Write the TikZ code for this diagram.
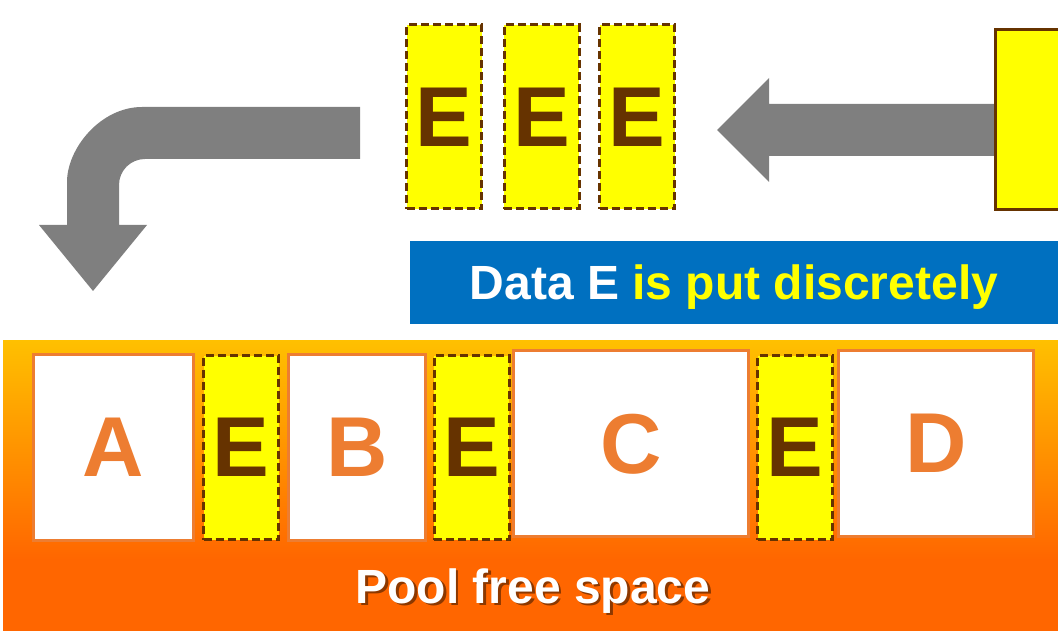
\documentclass[tikz,border=0pt]{standalone}
\usepackage{fontspec}
\setmainfont{Liberation Sans}
\usetikzlibrary{positioning}

\definecolor{cinza}{HTML}{7F7F7F}
\definecolor{amarelo}{HTML}{FFFF00}
\definecolor{marrom}{HTML}{663300}
\definecolor{laranja}{HTML}{ED7D31}
\definecolor{azul}{HTML}{0070C0}
\definecolor{topo}{HTML}{FFC000}
\definecolor{fundo}{HTML}{FF6600}

\begin{document}
\begin{tikzpicture}[x=1pt, y=-1pt,
    letra/.style={font=\fontsize{85}{85}\selectfont\bfseries, inner sep=0pt, text depth=0pt},
    dadoE/.style={letra, draw=marrom, fill=amarelo, text=marrom, line width=3pt,
        dash pattern=on 8pt off 4pt, minimum width=75pt, minimum height=184pt},
    bloco/.style={letra, draw=laranja, fill=white, text=laranja, line width=3pt,
        minimum width=#1, minimum height=186pt},
    rotulo/.style={font=\fontsize{48}{48}\selectfont\bfseries, inner sep=0pt, text depth=0pt}]

    \useasboundingbox (0,0) rectangle (1058,631);

    % espaco livre do pool
    \fill[fundo] (3,340) rectangle (1058,631);
    \shade[top color=topo, bottom color=fundo] (3,340) rectangle (1058,560);

    % seta horizontal
    \fill[cinza] (717,130) -- (769,78) -- (769,104) -- (995,104)
        -- (995,156) -- (769,156) -- (769,182) -- cycle;

    % seta dobrada
    \fill[cinza] (360,107) -- (142,107) .. controls (100.6,107) and (67,148.4) .. (67,182)
        -- (67,225) -- (39,225) -- (93,291) -- (147,225) -- (119,225)
        -- (119,185) .. controls (119,170.6) and (130.6,159) .. (145,159)
        -- (360,159) -- cycle;

    % dados E de origem
    \node[draw=marrom, fill=amarelo, line width=3pt, anchor=north west,
        minimum width=150pt, minimum height=180pt] (fonte) at (993.5,28.5) {};
    \foreach \x [count=\i] in {444, 541.5, 637}
        \node[dadoE] (topo\i) at (\x,117) {E};

    % faixa azul
    \node[rotulo, fill=azul, minimum width=648pt, minimum height=83pt] (faixa) at (734,282.5)
        {\textcolor{white}{Data E} \textcolor{amarelo}{is put discretely}};

    % blocos no pool
    \node[bloco=160pt] (blocoA) at (113.5,447.5) {A};
    \node[dadoE] (livre1) at (241,447.5) {E};
    \node[bloco=137pt] (blocoB) at (357,447.5) {B};
    \node[dadoE] (livre2) at (471.5,447.5) {E};
    \node[bloco=235pt] (blocoC) at (631,443.5) {C};
    \node[dadoE] (livre3) at (795,447.5) {E};
    \node[bloco=195pt] (blocoD) at (936,443.5) {D};

    % texto com sombra
    \node[rotulo, text=black, opacity=0.45] (sombra) at (535.5,588.5) {Pool free space};
    \node[rotulo, text=white] (texto) at (533,586) {Pool free space};

\end{tikzpicture}
\end{document}
